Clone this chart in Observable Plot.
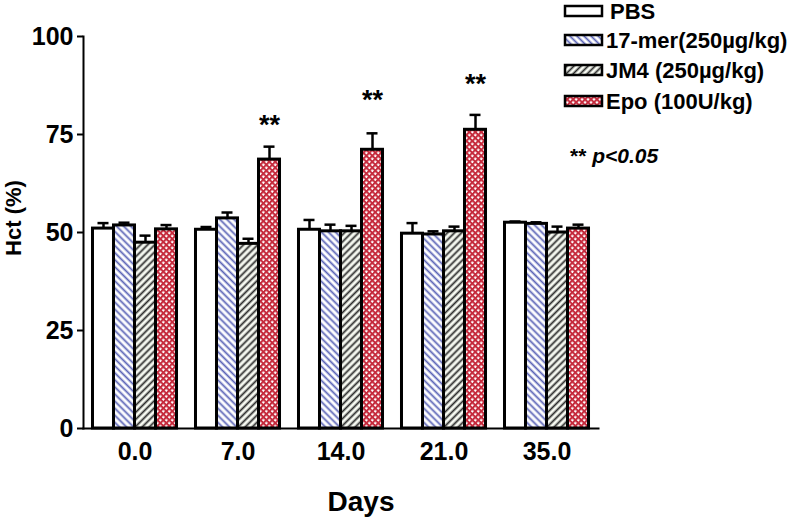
<!DOCTYPE html>
<html><head><meta charset="utf-8">
<script src="https://cdn.jsdelivr.net/npm/d3@7"></script>
<script src="https://cdn.jsdelivr.net/npm/@observablehq/plot@0.6"></script>
<style>
body{margin:0;background:#fff;}
#wrap{position:relative;width:788px;height:521px;font-family:"Liberation Sans",Arial,sans-serif;font-weight:bold;}
#overlay{position:absolute;left:0;top:0;pointer-events:none;}
</style></head><body>
<svg width="0" height="0" style="position:absolute">
  <defs>
    <pattern id="p17" patternUnits="userSpaceOnUse" width="5" height="5" patternTransform="rotate(-45)">
      <rect width="5" height="5" fill="#ffffff"/>
      <line x1="2.5" y1="0" x2="2.5" y2="5" stroke="#5a63b6" stroke-width="1.8"/>
    </pattern>
    <pattern id="pjm4" patternUnits="userSpaceOnUse" width="5" height="5" patternTransform="rotate(45)">
      <rect width="5" height="5" fill="#f7faf2"/>
      <line x1="2.5" y1="0" x2="2.5" y2="5" stroke="#2b2b2b" stroke-width="1.8"/>
    </pattern>
    <pattern id="pepo" patternUnits="userSpaceOnUse" width="4.2" height="4.2" patternTransform="rotate(45)">
      <rect width="4.2" height="4.2" fill="#ffffff"/>
      <line x1="0" y1="1" x2="4.2" y2="1" stroke="#c52a3c" stroke-width="2"/>
      <line x1="1" y1="0" x2="1" y2="4.2" stroke="#c52a3c" stroke-width="2"/>
    </pattern>
  </defs>
</svg>
<div id="wrap"></div>
<script>
// ---- data ----
const days = ["0.0", "7.0", "14.0", "21.0", "35.0"];
const series = ["PBS", "17-mer(250µg/kg)", "JM4 (250µg/kg)", "Epo (100U/kg)"];
const pbs    = [51.0, 50.7, 50.7, 49.7, 52.5];
const pbsErr = [1.4, 0.7, 2.5, 2.7, 0.3];
const mer    = [51.8, 53.6, 50.3, 49.5, 52.2];
const merErr = [0.7, 1.5, 1.7, 0.8, 0.4];
const jm4    = [47.4, 47.1, 50.3, 50.3, 50.0];
const jm4Err = [1.8, 1.3, 1.4, 1.2, 1.5];
const epo    = [50.8, 68.6, 71.1, 76.2, 51.0];
const epoErr = [1.1, 3.3, 4.2, 3.8, 1.0];
const starDays = ["7.0", "14.0", "21.0"];
const starY = [77.3, 83.7, 87.8];
const yTicks = [0, 25, 50, 75, 100];
const pText = "p<0.05";

const fills = ["#ffffff", "url(#p17)", "url(#pjm4)", "url(#pepo)"];
const vals = [pbs, mer, jm4, epo];
const errs = [pbsErr, merErr, jm4Err, epoErr];

const rows = days.flatMap((d, i) => series.map((s, k) => ({day: d, series: s, v: vals[k][i], e: errs[k][i]})));
const stars = starDays.map((d, i) => ({day: d, series: series[3], y: starY[i]}));

const chart = Plot.plot({
  width: 788, height: 521,
  marginLeft: 83, marginRight: 151, marginTop: 36, marginBottom: 93,
  style: {fontFamily: '"Liberation Sans", Arial, sans-serif', fontWeight: "bold", fontSize: "25px", background: "white", color: "black"},
  fx: {domain: days, paddingInner: 0, paddingOuter: 0.1893, align: 0, round: false, axis: "bottom", tickSize: 0, tickPadding: 14, label: null},
  x: {domain: series, paddingInner: 0, paddingOuter: 0.452, align: 0.5, round: false, axis: null},
  y: {domain: [0, 100], axis: null},
  color: {domain: series, range: fills},
  marks: [
    Plot.barY(rows, {fx: "day", x: "series", y: "v", fill: "series", stroke: "black", strokeWidth: 3}),
    Plot.ruleX(rows, {fx: "day", x: "series", y1: "v", y2: d => d.v + d.e, stroke: "black", strokeWidth: 2.5}),
    Plot.tickY(rows, {fx: "day", x: "series", y: d => d.v + d.e, stroke: "black", strokeWidth: 2.5, insetLeft: 5, insetRight: 5}),
    Plot.text(stars, {fx: "day", x: "series", y: "y", text: () => "**", fontSize: 27, fontWeight: "bold"}),
    Plot.axisY({ticks: yTicks, tickSize: 6, tickPadding: 4, strokeWidth: 2, label: null}),
    Plot.frame({anchor: "left", facet: "super", strokeWidth: 2}),
    Plot.frame({anchor: "bottom", facet: "super", strokeWidth: 2})
  ]
});
const wrap = document.getElementById("wrap");
wrap.appendChild(chart);

// overlay: axis titles and legend
const ov = d3.select(wrap).append("svg").attr("id", "overlay").attr("width", 788).attr("height", 521)
  .style("font-family", '"Liberation Sans", Arial, sans-serif').style("font-weight", "bold");
ov.append("text").attr("x", 361).attr("y", 511).attr("text-anchor", "middle").attr("font-size", 28).text("Days");
ov.append("text").attr("transform", "translate(21,218) rotate(-90)").attr("text-anchor", "middle").attr("font-size", 22).text("Hct (%)");
const rowY = [11, 40, 70, 101];
series.forEach((s, k) => {
  ov.append("rect").attr("x", 565).attr("y", rowY[k] - 5).attr("width", 37).attr("height", 10)
    .attr("fill", fills[k]).attr("stroke", "black").attr("stroke-width", 2.5);
  ov.append("text").attr("x", k === 0 ? 610 : 606).attr("y", rowY[k] + 8).attr("font-size", 22).text(s);
});
const pt = ov.append("text").attr("x", 570).attr("y", 163).attr("font-size", 21);
pt.append("tspan").text("** ");
pt.append("tspan").attr("font-style", "italic").text(pText);
</script></body></html>
